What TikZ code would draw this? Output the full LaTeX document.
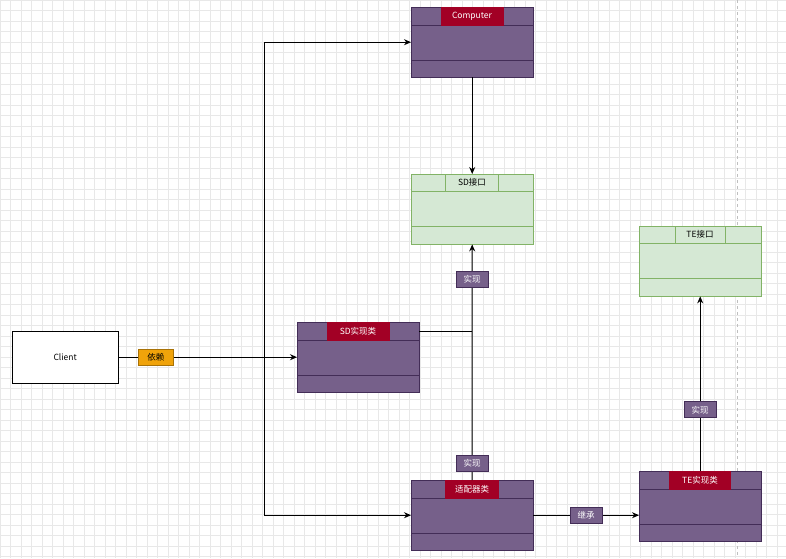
\documentclass[tikz,border=0pt]{standalone}
\usepackage{fontspec}
\setmainfont{Liberation Sans}
\newfontfamily\cjk{Noto Sans CJK SC}
\usetikzlibrary{arrows.meta}
\definecolor{pur}{HTML}{76608A}
\definecolor{purd}{HTML}{432D57}
\definecolor{tred}{HTML}{A20025}
\definecolor{gfill}{HTML}{D5E8D4}
\definecolor{gline}{HTML}{82B366}
\definecolor{org}{HTML}{F0A30A}
\begin{document}
\begin{tikzpicture}[x=1pt,y=-1pt,font=\cjk\fontsize{8.5}{10}\selectfont,
  conn/.style={draw=black,line width=1pt},
  arr/.style={conn,-{Stealth[length=7pt,width=6pt]}},
  lab/.style={fill=pur,draw=purd,text=white,inner sep=2pt,minimum width=32pt,minimum height=16pt},
  pbox/.style={fill=pur,draw=purd,minimum width=122pt,minimum height=70pt,inner sep=0pt},
  gbox/.style={fill=gfill,draw=gline,minimum width=122pt,minimum height=70pt,inner sep=0pt}]
\fill[white] (0,0) rectangle (786,558);
\useasboundingbox (0,0) rectangle (786,558);
\foreach \i in {0,...,75} {\draw[black!9,line width=0.4pt] (\i*10.5,0) -- (\i*10.5,558);}
\foreach \i in {0,...,53} {\draw[black!9,line width=0.4pt] (0,\i*10.5) -- (786,\i*10.5);}
\draw[black!25,dashed] (737,0) -- (737,558);
\newcommand{\pclass}[5]{%
  \node[pbox,anchor=north west] (#1) at (#2,#3) {};
  \draw[purd,line width=0.8pt] (#2,#3+18) -- (#2+122,#3+18) (#2,#3+53) -- (#2+122,#3+53);
  \node[fill=tred,draw=tred,text=white,minimum width=#4pt,minimum height=18pt,inner sep=0pt,anchor=north] (#1t) at (#2+61,#3) {#5};}
\newcommand{\gclass}[5]{%
  \node[gbox,anchor=north west] (#1) at (#2,#3) {};
  \draw[gline,line width=0.8pt] (#2,#3+17) -- (#2+122,#3+17) (#2,#3+52) -- (#2+122,#3+52);
  \node[draw=gline,minimum width=#4pt,minimum height=17pt,inner sep=0pt,anchor=north] (#1t) at (#2+61,#3) {#5};}
\pclass{comp}{411}{7}{62}{Computer}
\gclass{sdi}{411}{174}{53}{SD接口}
\gclass{tei}{639}{226}{50}{TE接口}
\pclass{sdimpl}{297}{322}{62}{SD实现类}
\pclass{adp}{411}{480}{53}{适配器类}
\pclass{teimpl}{639}{471}{61}{TE实现类}
\node[draw=black,fill=white,minimum width=106pt,minimum height=52pt,anchor=north west] (client) at (12,331) {Client};
\coordinate (j) at (472,331);
\coordinate (k) at (264,357);
\draw[arr] (client.east) -- (sdimpl.west) node[pos=0.21,fill=org,draw=org!70!black,inner sep=2pt,minimum width=35pt,minimum height=16pt] (dep) {依赖};
\draw[arr] (k) |- (comp.west);
\draw[arr] (k) |- (adp.west);
\draw[arr] (comp.south) -- (sdi.south |- sdi.north);
\draw[conn] (sdimpl.north east |- j) -- (j);
\draw[arr] (adp.north) -- (j) -- (sdi.south);
\node[lab] (r1) at (472,279) {实现};
\node[lab] (r2) at (472,463) {实现};
\draw[arr] (adp.east) -- (adp.east -| teimpl.west) node[midway,lab] (r3) {继承};
\draw[arr] (teimpl.north) -- (tei.south) node[pos=0.35,lab] (r4) {实现};
\end{tikzpicture}
\end{document}
